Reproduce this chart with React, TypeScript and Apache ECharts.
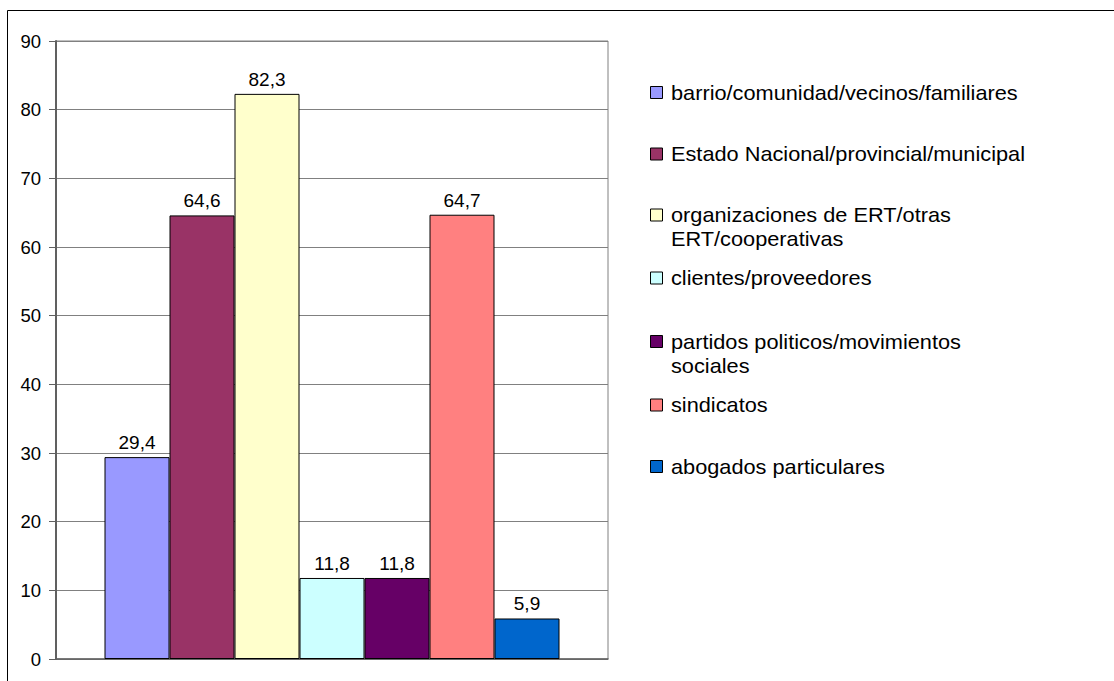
import React, { useEffect, useRef } from "react";
import * as echarts from "echarts";

const categories = ["Total"];
const seriesNames = [
  "barrio/comunidad/vecinos/familiares",
  "Estado Nacional/provincial/municipal",
  "organizaciones de ERT/otras\nERT/cooperativas",
  "clientes/proveedores",
  "partidos politicos/movimientos\nsociales",
  "sindicatos",
  "abogados particulares",
];
const seriesValues = [29.4, 64.6, 82.3, 11.8, 11.8, 64.7, 5.9];
const seriesColors = ["#9999FF", "#993366", "#FFFFCC", "#CCFFFF", "#660066", "#FF8080", "#0066CC"];
const yTicks = { min: 0, max: 90, interval: 10 };

const FONT = "'Liberation Sans', Arial, sans-serif";
const legendCenters = [92.5, 154, 215, 278, 341.5, 405, 466.5];

export default function App() {
  const ref = useRef<HTMLDivElement>(null);
  useEffect(() => {
    if (!ref.current) return;
    const chart = echarts.init(ref.current, null, { renderer: "svg" });
    const legendGraphics: any[] = [];
    seriesNames.forEach((name, i) => {
      const cy = legendCenters[i];
      legendGraphics.push({
        type: "rect",
        shape: { x: 650.5, y: cy - 6, width: 12, height: 12 },
        style: { fill: seriesColors[i], stroke: "#000", lineWidth: 1 },
      });
      legendGraphics.push({
        type: "text",
        x: 671,
        y: cy - 12,
        scaleX: 1.088,
        style: {
          text: name,
          fill: "#000",
          font: `20px ${FONT}`,
          lineHeight: 24,
          textVerticalAlign: "top",
        },
      });
    });
    chart.setOption({
      animation: false,
      backgroundColor: "#fff",
      grid: { left: 56, top: 41, right: 506, bottom: 22, show: true, borderColor: "#808080", borderWidth: 1 },
      xAxis: {
        type: "category",
        data: categories,
        axisLine: { show: true, lineStyle: { color: "#606060", width: 1.5 } },
        axisTick: { show: false },
        axisLabel: { show: false },
      },
      yAxis: {
        type: "value",
        min: yTicks.min,
        max: yTicks.max,
        interval: yTicks.interval,
        axisLine: { show: true, lineStyle: { color: "#606060", width: 2 } },
        axisTick: { show: true, length: 7, lineStyle: { color: "#606060" } },
        axisLabel: { color: "#000", fontSize: 18.5, fontFamily: FONT, margin: 15 },
        splitLine: { show: true, lineStyle: { color: "#808080", width: 1 } },
      },
      series: seriesNames.map((name, i) => ({
        type: "bar",
        name,
        data: [seriesValues[i]],
        barWidth: 65,
        barGap: "0%",
        itemStyle: { color: seriesColors[i], borderColor: "#000", borderWidth: 1 },
        label: {
          show: true,
          position: "top",
          distance: 5,
          color: "#000",
          fontSize: 19,
          fontFamily: FONT,
          formatter: (p: any) => Number(p.value).toFixed(1).replace(".", ","),
        },
      })),
      graphic: [
        {
          type: "rect",
          silent: true,
          z: -1,
          shape: { x: 7.5, y: 10.5, width: 1200, height: 800 },
          style: { fill: "none", stroke: "#000", lineWidth: 1 },
        },
        ...legendGraphics,
      ],
    });
    return () => chart.dispose();
  }, []);
  return (
    <div
      ref={ref}
      style={{ position: "fixed", left: 0, top: 0, width: 1114, height: 681, background: "#fff" }}
    />
  );
}
